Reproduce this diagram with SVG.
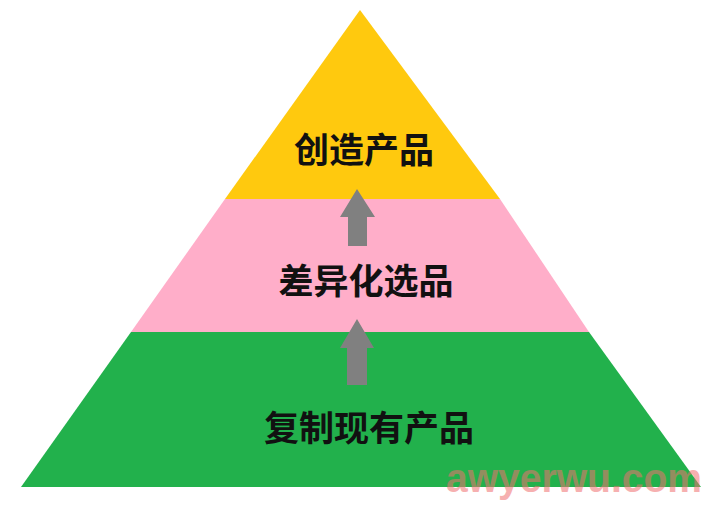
<svg xmlns="http://www.w3.org/2000/svg" width="722" height="511" viewBox="0 0 722 511">
<style>
.lbl{font-family:"Noto Sans CJK SC","Noto Sans",sans-serif;font-weight:bold;font-size:35px;fill:#111;text-anchor:middle}
.arr{fill:#808080}
.wm{font-family:"Liberation Sans",Arial,sans-serif;font-weight:bold;font-size:40px;fill:#f07070;opacity:0.55}
</style>
<rect width="722" height="511" fill="#ffffff"/>
<g id="layer-top">
<polygon points="360,10 500,199 225,199" fill="#FFC90E"/>
<text class="lbl" x="364" y="163">创造产品</text>
</g>
<g id="layer-middle">
<polygon points="225,199 500,199 589,332 131,332" fill="#FFAEC9"/>
<text class="lbl" x="366" y="294">差异化选品</text>
</g>
<g id="layer-bottom">
<polygon points="131,332 589,332 701,487 21,487" fill="#22B14C"/>
<text class="lbl" x="369" y="441">复制现有产品</text>
</g>
<g id="connectors">
<polygon class="arr" points="357,189 375,217 367,217 367,246 348,246 348,217 340,217"/>
<polygon class="arr" points="357,319 374,348 367,348 367,385 347,385 347,348 340,348"/>
</g>
<text class="wm" x="446" y="492" textLength="256" lengthAdjust="spacingAndGlyphs">awyerwu.com</text>
</svg>
